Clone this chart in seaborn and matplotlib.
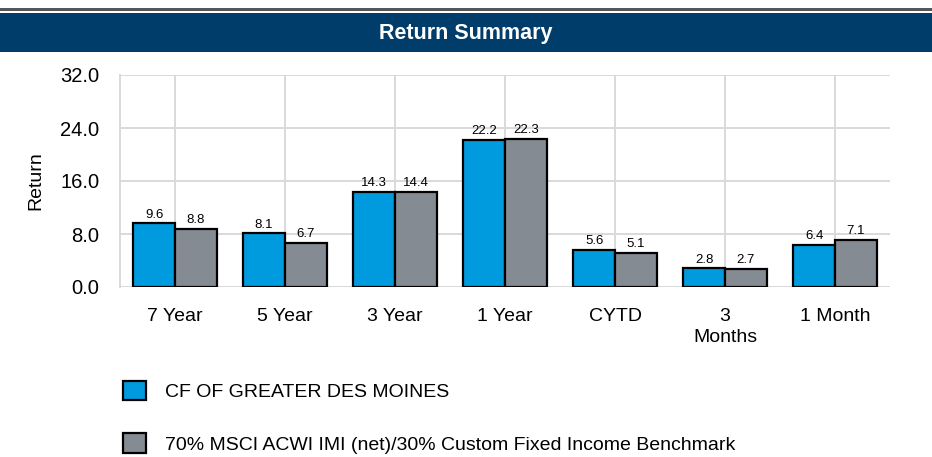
import matplotlib
matplotlib.use("Agg")
import matplotlib.pyplot as plt
import seaborn as sns
import pandas as pd
from matplotlib.patches import Rectangle, Patch

categories = ["7 Year", "5 Year", "3 Year", "1 Year", "CYTD", "3\nMonths", "1 Month"]
series_names = ["CF OF GREATER DES MOINES",
                "70% MSCI ACWI IMI (net)/30% Custom Fixed Income Benchmark"]
fund_values = [9.6, 8.1, 14.3, 22.2, 5.6, 2.8, 6.4]
bench_values = [8.8, 6.7, 14.4, 22.3, 5.1, 2.7, 7.1]
y_ticks = [0.0, 8.0, 16.0, 24.0, 32.0]
colors = ["#009ADE", "#858B93"]

sns.set_style("white")
plt.rcParams['font.family'] = ['Liberation Sans Narrow', 'Liberation Sans', 'DejaVu Sans']
plt.rcParams['text.color'] = 'black'
plt.rcParams['xtick.labelcolor'] = 'black'
plt.rcParams['ytick.labelcolor'] = 'black'
plt.rcParams['axes.labelcolor'] = 'black'

df = pd.DataFrame({
    "Period": categories * 2,
    "Series": [series_names[0]] * len(categories) + [series_names[1]] * len(categories),
    "Return": fund_values + bench_values,
})

W, H = 932, 457
fig = plt.figure(figsize=(W / 100, H / 100), dpi=100)

# top line and title bar
fig.add_artist(Rectangle((0, 1 - 11 / H), 1, 3 / H, transform=fig.transFigure,
                         facecolor="#555555", edgecolor="none"))
fig.add_artist(Rectangle((0, 1 - 52 / H), 1, 39 / H, transform=fig.transFigure,
                         facecolor="#003D6B", edgecolor="none"))
fig.text(0.5, 1 - 33 / H, "Return Summary", color="white", fontsize=15.5,
         fontweight="bold", ha="center", va="center")

ax = fig.add_axes([120 / W, (H - 287) / H, (890 - 120) / W, (287 - 75) / H])
sns.barplot(data=df, x="Period", y="Return", hue="Series", palette=colors,
            saturation=1, width=0.76, edgecolor="black", linewidth=1.6, ax=ax,
            legend=False, zorder=3, errorbar=None)

ax.set_ylim(0, 32)
ax.set_xlim(-0.5, 6.5)
ax.set_yticks(y_ticks)
ax.set_yticklabels([f"{v:.1f}" for v in y_ticks], fontsize=14.5)
ax.set_xticks(range(len(categories)))
ax.set_xticklabels(categories, fontsize=14, linespacing=1.35)
ax.set_xlabel("")
ax.set_ylabel("Return", fontsize=14)
ax.yaxis.set_label_coords(-76 / (890 - 120), 0.5)

grid_color = "#D9D9D9"
ax.grid(True, axis="both", color=grid_color, linewidth=1.4, zorder=0)
ax.set_axisbelow(True)
ax.tick_params(axis="both", length=12, width=1.4, color=grid_color, pad=3)
for s in ["top", "right", "bottom"]:
    ax.spines[s].set_visible(False)
ax.spines["left"].set_color(grid_color)
ax.spines["left"].set_linewidth(1.4)

for cont in ax.containers:
    ax.bar_label(cont, fmt="%.1f", fontsize=9.5, padding=2)

handles = [Patch(facecolor=c, edgecolor="black", linewidth=1.6) for c in colors]
fig.legend(handles, series_names, loc="upper left",
           bbox_to_anchor=(105 / W, 1 - 363 / H), frameon=False, fontsize=14,
           handlelength=1.2, handleheight=1.2, handletextpad=1.0,
           labelspacing=1.65)

fig.savefig("out.png", dpi=100)
